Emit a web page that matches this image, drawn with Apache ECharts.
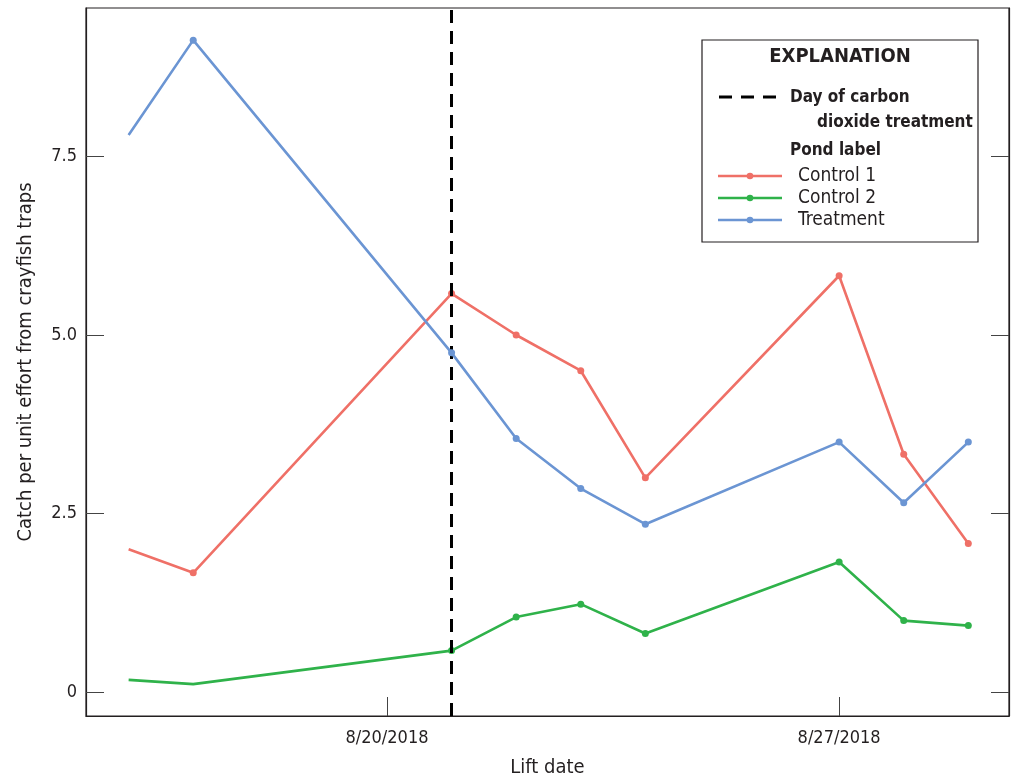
<!DOCTYPE html>
<html>
<head>
<meta charset="utf-8">
<title>Crayfish catch per unit effort</title>
<script src="https://cdn.jsdelivr.net/npm/echarts@6/dist/echarts.min.js"></script>
<style>
  html, body { margin: 0; padding: 0; background: #fff; }
  #chart { width: 1013px; height: 780px; }
</style>
</head>
<body>
<div id="chart"></div>
<script>
// Trap lift dates
const liftDates = ['2018-08-16', '2018-08-17', '2018-08-21', '2018-08-22', '2018-08-23',
                   '2018-08-24', '2018-08-27', '2018-08-28', '2018-08-29'];

// Catch per unit effort by pond
const control1  = [2.00, 1.67, 5.58, 5.00, 4.50, 3.00, 5.83, 3.33, 2.08];
const control2  = [0.17, 0.11, 0.58, 1.05, 1.23, 0.82, 1.82, 1.00, 0.93];
const treatment = [7.80, 9.13, 4.75, 3.55, 2.85, 2.35, 3.50, 2.65, 3.50];

// Whether a point marker is drawn for each lift
const control1Markers  = [false, true, true, true, true, true, true, true, true];
const control2Markers  = [false, false, true, true, true, true, true, true, true];
const treatmentMarkers = [false, true, true, true, true, true, true, true, true];

const pondNames  = ['Control 1', 'Control 2', 'Treatment'];
const pondColors = ['#ef7067', '#2fb24a', '#6b95d3'];

// Day of carbon dioxide treatment
const treatmentDay = '2018-08-21';

// Tick labels
const xTickDates = ['2018-08-20', '2018-08-27'];
const yTickValues = [0, 2.5, 5, 7.5];

const DAY = 86400000;
const dayNum = s => Date.UTC(+s.slice(0, 4), +s.slice(5, 7) - 1, +s.slice(8, 10)) / DAY;
const fmtDate = d => {
  const t = new Date(Math.round(d) * DAY);
  return (t.getUTCMonth() + 1) + '/' + t.getUTCDate() + '/' + t.getUTCFullYear();
};

const FONT = '"DejaVu Sans Condensed", "Liberation Sans Narrow", sans-serif';
const INK = '#231f20';

const xTicks = xTickDates.map(dayNum);
const xMin = xTicks[0] - 4.66;
const xMax = xTicks[1] + 2.63;
const yMin = -0.336;
const yMax = 9.58;

function seriesData(values, markers) {
  return liftDates.map((d, i) => ({
    value: [dayNum(d), values[i]],
    symbol: markers[i] ? 'circle' : 'none'
  }));
}

const pondValues = [control1, control2, treatment];
const pondMarkers = [control1Markers, control2Markers, treatmentMarkers];

const series = pondNames.map((name, k) => ({
  name: name,
  type: 'line',
  data: seriesData(pondValues[k], pondMarkers[k]),
  symbolSize: 7,
  lineStyle: { color: pondColors[k], width: 2.6 },
  itemStyle: { color: pondColors[k] },
  emphasis: { disabled: true },
  animation: false,
  z: 3 + k
}));

series.push({
  name: 'Day of carbon dioxide treatment',
  type: 'line',
  data: [],
  markLine: {
    silent: true,
    symbol: 'none',
    label: { show: false },
    lineStyle: { color: '#000', width: 3, type: [13, 8] },
    data: [{ xAxis: dayNum(treatmentDay) }]
  },
  animation: false,
  z: 2
});

// Explanation box
const boxX = 702, boxY = 40, boxW = 276, boxH = 202;
const legendGraphics = [
  { type: 'rect', shape: { x: boxX, y: boxY, width: boxW, height: boxH },
    style: { fill: '#fff', stroke: INK, lineWidth: 1.2 }, z: 10 },
  { type: 'text', x: 840, y: 57, z: 11,
    style: { text: 'EXPLANATION', font: 'bold 20px ' + FONT, fill: INK,
             align: 'center', verticalAlign: 'middle' } },
  { type: 'line', shape: { x1: 719, y1: 97, x2: 776, y2: 97 }, z: 11,
    style: { stroke: '#000', lineWidth: 3, lineDash: [13, 9] } },
  { type: 'text', x: 790, y: 98, z: 11,
    style: { text: 'Day of carbon', font: 'bold 17px ' + FONT, fill: INK,
             align: 'left', verticalAlign: 'middle' } },
  { type: 'text', x: 817, y: 123, z: 11,
    style: { text: 'dioxide treatment', font: 'bold 17px ' + FONT, fill: INK,
             align: 'left', verticalAlign: 'middle' } },
  { type: 'text', x: 790, y: 151, z: 11,
    style: { text: 'Pond label', font: 'bold 17px ' + FONT, fill: INK,
             align: 'left', verticalAlign: 'middle' } }
];
pondNames.forEach((name, k) => {
  const y = 176 + k * 22;
  legendGraphics.push(
    { type: 'line', shape: { x1: 718, y1: y, x2: 782, y2: y }, z: 11,
      style: { stroke: pondColors[k], lineWidth: 2.6 } },
    { type: 'circle', shape: { cx: 750, cy: y, r: 3.3 }, z: 12,
      style: { fill: pondColors[k] } },
    { type: 'text', x: 798, y: y, z: 11,
      style: { text: name, font: '19px ' + FONT, fill: INK,
               align: 'left', verticalAlign: 'middle' } }
  );
});

const chart = echarts.init(document.getElementById('chart'), null, { renderer: 'canvas' });
chart.setOption({
  backgroundColor: '#fff',
  animation: false,
  grid: {
    left: 86, right: 4, top: 8, bottom: 64,
    outerBoundsMode: 'none',
    containLabel: false,
    show: true, borderColor: INK, borderWidth: 1.2, backgroundColor: 'transparent'
  },
  xAxis: {
    type: 'value',
    min: xMin, max: xMax,
    name: 'Lift date',
    nameLocation: 'middle',
    nameGap: 42,
    nameTextStyle: { fontFamily: FONT, fontSize: 20, color: INK },
    splitLine: { show: false },
    axisLine: { show: true, onZero: false, lineStyle: { color: INK, width: 1.2 } },
    axisTick: { show: true, inside: true, length: 19, customValues: xTicks,
                lineStyle: { color: '#444', width: 1 } },
    axisLabel: { customValues: xTicks, formatter: v => fmtDate(v), margin: 13,
                 fontFamily: FONT, fontSize: 18, color: INK }
  },
  yAxis: [{
    type: 'value',
    min: yMin, max: yMax,
    name: 'Catch per unit effort from crayfish traps',
    nameLocation: 'middle',
    nameGap: 50,
    nameTextStyle: { fontFamily: FONT, fontSize: 20, color: INK },
    splitLine: { show: false },
    axisLine: { show: true, onZero: false, lineStyle: { color: INK, width: 1.2 } },
    axisTick: { show: true, inside: true, length: 18, customValues: yTickValues,
                lineStyle: { color: '#444', width: 1 } },
    axisLabel: { customValues: yTickValues, margin: 9,
                 formatter: v => (v === 0 ? '0' : v.toFixed(1)),
                 fontFamily: FONT, fontSize: 18, color: INK }
  }, {
    type: 'value',
    position: 'right',
    min: yMin, max: yMax,
    splitLine: { show: false },
    axisLine: { show: true, onZero: false, lineStyle: { color: INK, width: 1.2 } },
    axisTick: { show: true, inside: true, length: 18, customValues: yTickValues,
                lineStyle: { color: '#444', width: 1 } },
    axisLabel: { show: false }
  }],
  series: series,
  graphic: legendGraphics
});
</script>
</body>
</html>
